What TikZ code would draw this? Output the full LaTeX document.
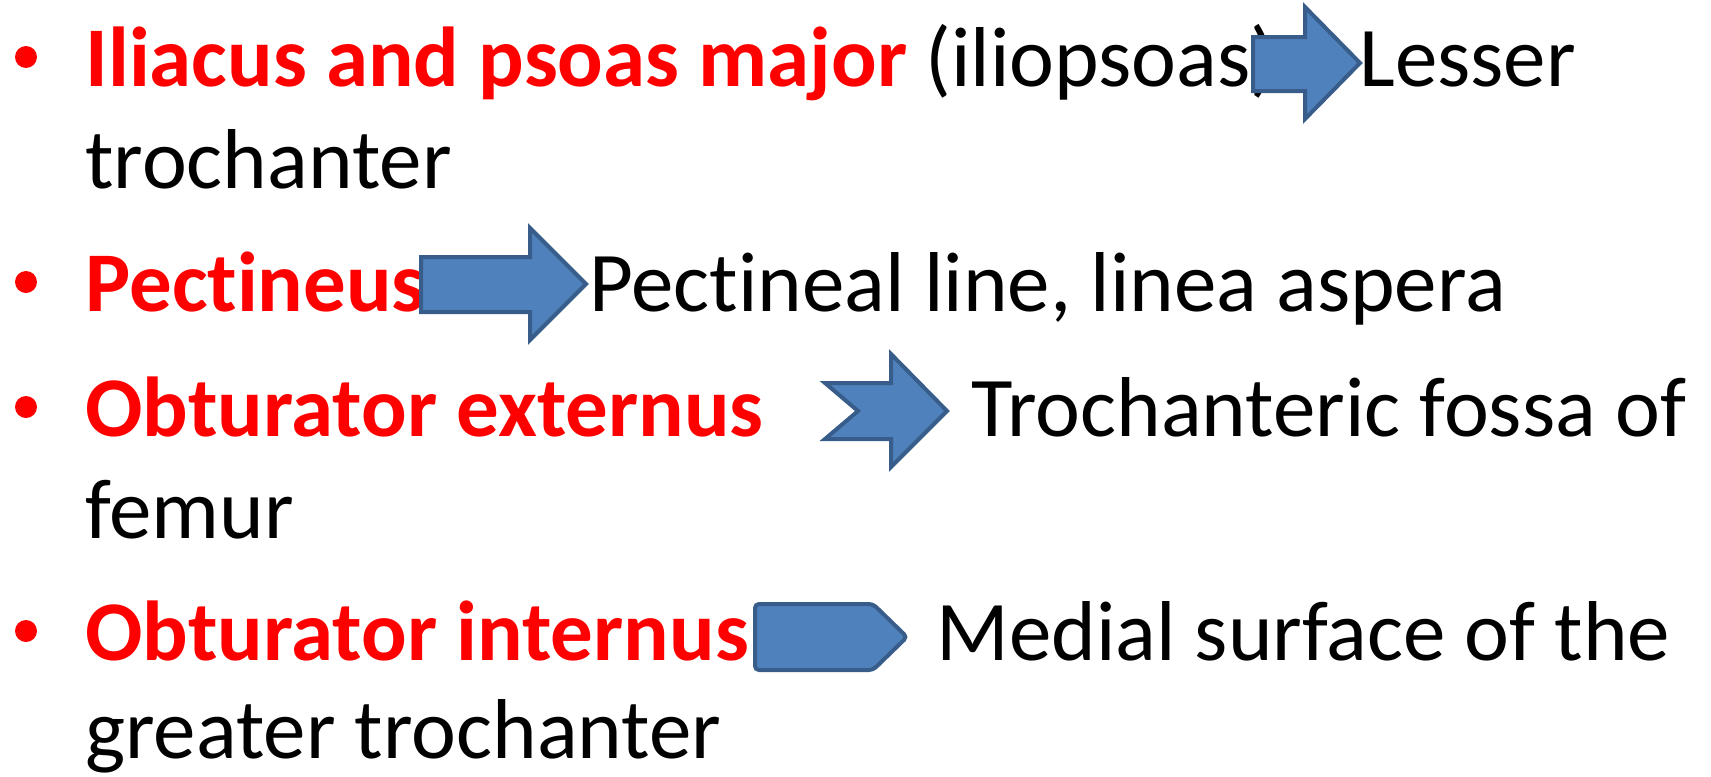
\documentclass[tikz,border=0pt]{standalone}
\usepackage{fontspec}
\setmainfont{Carlito}[Ligatures=NoCommon]
\usetikzlibrary{positioning}

\definecolor{musclered}{RGB}{255,0,0}
\definecolor{arrowfill}{RGB}{79,129,189}
\definecolor{arrowline}{RGB}{56,93,138}

\tikzset{
	txt/.style={anchor=base west, inner sep=0pt, font=\fontsize{42.5}{50}\selectfont},
	muscle/.style={txt, text=musclered, font=\fontsize{42.5}{50}\selectfont\bfseries},
	dot/.style={circle, fill=musclered, inner sep=0pt, minimum size=11pt},
	blockarrow/.style={fill=arrowfill, draw=arrowline, line width=2pt, line join=miter}
}

\begin{document}
\begin{tikzpicture}[x=0.5pt, y=-0.5pt]

	\useasboundingbox (0,0) rectangle (1711,776);

	% Iliacus and psoas major
	\node[dot] (b1) at (26,57) {};
	\node[muscle] (m1) at (85,86) {Iliacus and psoas major};
	\node[txt] (p1) at (925,86) {(iliopsoas)};
	\node[txt] (t1) at (1359,86) {Lesser};
	\node[txt] (t1b) at (85,188) {trochanter};

	% Pectineus
	\node[dot] (b2) at (26,282) {};
	\node[muscle] (m2) at (85,311) {Pectineus};
	\node[txt] (t2) at (589,311) {Pectineal line, linea aspera};

	% Obturator externus
	\node[dot] (b3) at (26,407) {};
	\node[muscle] (m3) at (85,436) {Obturator externus};
	\node[txt] (t3) at (971,436) {Trochanteric fossa of};
	\node[txt] (t3b) at (85,538) {femur};

	% Obturator internus
	\node[dot] (b4) at (26,631) {};
	\node[muscle] (m4) at (85,660) {Obturator internus};
	\node[txt] (t4) at (936,660) {Medial surface of the};
	\node[txt] (t4b) at (85,758) {greater trochanter};

	%%% block arrows %%%
	\draw[blockarrow] (1253,37) -- (1305,37) -- (1305,7) -- (1360,63) -- (1305,119) -- (1305,91) -- (1253,91) -- cycle;
	\draw[blockarrow] (421,257) -- (530,257) -- (530,228) -- (586,284) -- (530,340) -- (530,312) -- (421,312) -- cycle;
	\draw[blockarrow] (825,383) -- (891,383) -- (891,354) -- (947,411) -- (891,467) -- (891,439) -- (825,439) -- (858,411) -- cycle;
	\draw[blockarrow, rounded corners=2pt] (755,604) -- (873,604) -- (907,637) -- (873,670) -- (755,670) -- cycle;

\end{tikzpicture}
\end{document}
